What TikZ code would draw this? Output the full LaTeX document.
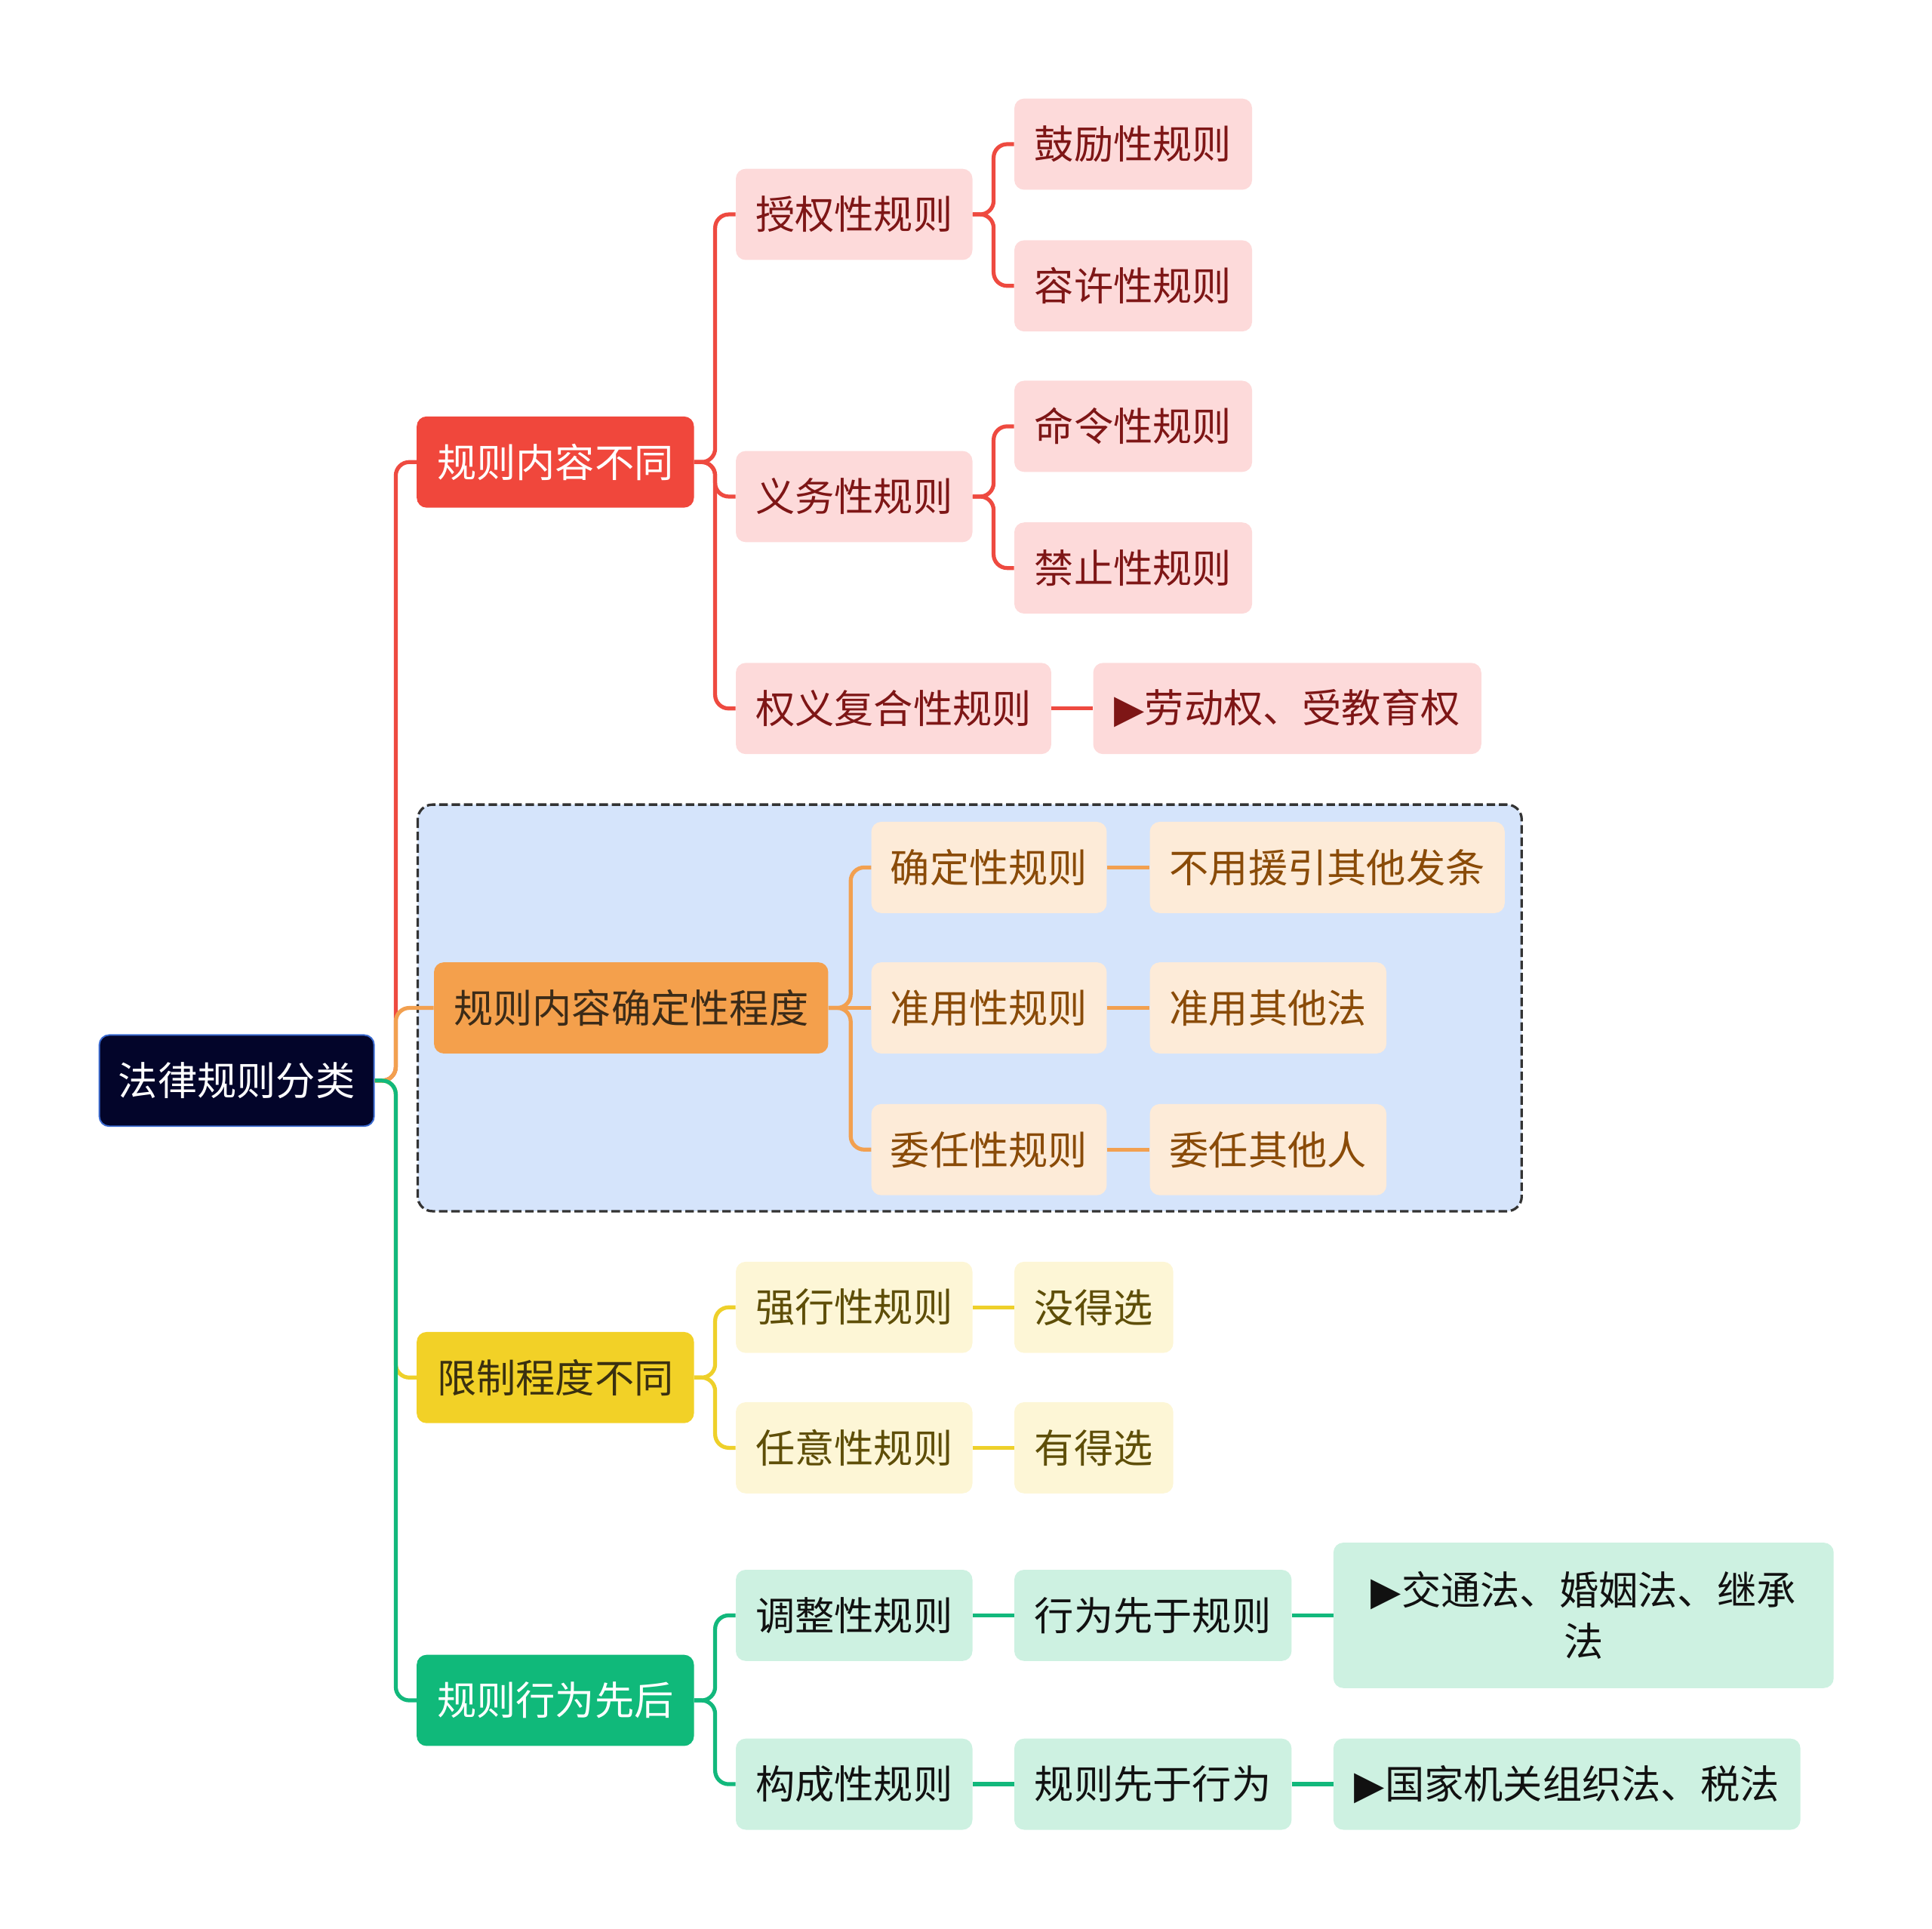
\documentclass[tikz,border=0pt]{standalone}
\usepackage{fontspec}
\setmainfont{Noto Sans CJK SC}
\newfontfamily\symf{DejaVu Sans}
\definecolor{rootfill}{HTML}{03052A}
\definecolor{rootdraw}{HTML}{3A6AD0}
\definecolor{redA}{HTML}{F0473C}
\definecolor{redB}{HTML}{FDDADA}
\definecolor{redT}{HTML}{7E1616}
\definecolor{redL}{HTML}{EE4A40}
\definecolor{orA}{HTML}{F4A04C}
\definecolor{orB}{HTML}{FDEBD8}
\definecolor{orT}{HTML}{8A4B08}
\definecolor{orL}{HTML}{F2A050}
\definecolor{orHT}{HTML}{3B2B18}
\definecolor{yeA}{HTML}{F2D127}
\definecolor{yeB}{HTML}{FDF6D6}
\definecolor{yeT}{HTML}{5E4E08}
\definecolor{yeL}{HTML}{EED02A}
\definecolor{yeHT}{HTML}{3A3010}
\definecolor{grA}{HTML}{10B97A}
\definecolor{grB}{HTML}{CDF1E1}
\definecolor{grT}{HTML}{111111}
\definecolor{grL}{HTML}{12B87C}
\definecolor{bluebg}{HTML}{D5E4FB}
\begin{document}
\begin{tikzpicture}[x=1pt,y=-1pt,
  box/.style={rounded corners=8pt, minimum height=74pt, inner sep=0pt, anchor=west,
    font=\fontsize{32}{42}\selectfont, align=center},
  rootbox/.style={box, fill=rootfill, draw=rootdraw, line width=1.2pt, text=white},
  redH/.style={box, fill=redA, text=white},
  redN/.style={box, fill=redB, text=redT},
  orH/.style={box, fill=orA, text=orHT},
  orN/.style={box, fill=orB, text=orT},
  yeH/.style={box, fill=yeA, text=yeHT},
  yeN/.style={box, fill=yeB, text=yeT},
  grH/.style={box, fill=grA, text=white},
  grN/.style={box, fill=grB, text=grT},
  link/.style={line width=3.2pt, rounded corners=11pt},
  rl/.style={link, draw=redL},
  ol/.style={link, draw=orL},
  yl/.style={link, draw=yeL},
  gl/.style={link, draw=grL}
]
\useasboundingbox (0,0) rectangle (1568,1565);
% background group box
\draw[fill=bluebg, draw=black!80, line width=2pt, dash pattern=on 7pt off 3pt, rounded corners=12pt]
  (339,653) rectangle (1235,983);

% nodes
\node[rootbox, minimum width=223pt] (root) at (80,877) {法律规则分类};
\node[redH, minimum width=225pt] (A) at (338,375) {规则内容不同};
\node[orH, minimum width=320pt] (B) at (352,818) {规则内容确定性程度};
\node[yeH, minimum width=225pt] (C) at (338,1118) {限制程度不同};
\node[grH, minimum width=225pt] (D) at (338,1380) {规则行为先后};

\node[redN, minimum width=192pt] (A1) at (597,174) {授权性规则};
\node[redN, minimum width=192pt] (A2) at (597,403) {义务性规则};
\node[redN, minimum width=256pt] (A3) at (597,575) {权义复合性规则};
\node[redN, minimum width=193pt] (A11) at (823,117) {鼓励性规则};
\node[redN, minimum width=193pt] (A12) at (823,232) {容许性规则};
\node[redN, minimum width=193pt] (A21) at (823,346) {命令性规则};
\node[redN, minimum width=193pt] (A22) at (823,461) {禁止性规则};
\node[redN, minimum width=315pt] (A31) at (887,575) {{\symf ▶}劳动权、受教育权};

\node[orN, minimum width=191pt] (B1) at (707,704) {确定性规则};
\node[orN, minimum width=191pt] (B2) at (707,818) {准用性规则};
\node[orN, minimum width=191pt] (B3) at (707,933) {委任性规则};
\node[orN, minimum width=288pt] (B11) at (933,704) {不用援引其他发条};
\node[orN, minimum width=192pt] (B21) at (933,818) {准用其他法};
\node[orN, minimum width=192pt] (B31) at (933,933) {委任其他人};

\node[yeN, minimum width=192pt] (C1) at (597,1061) {强行性规则};
\node[yeN, minimum width=192pt] (C2) at (597,1175) {任意性规则};
\node[yeN, minimum width=129pt] (C11) at (823,1061) {没得选};
\node[yeN, minimum width=129pt] (C21) at (823,1175) {有得选};

\node[grN, minimum width=192pt] (D1) at (597,1311) {调整性规则};
\node[grN, minimum width=192pt] (D2) at (597,1448) {构成性规则};
\node[grN, minimum width=225pt] (D11) at (823,1311) {行为先于规则};
\node[grN, minimum width=225pt] (D21) at (823,1448) {规则先于行为};
\node[grN, minimum width=406pt, minimum height=118pt] (D111) at (1082,1311) {{\symf ▶}交通法、婚姻法、继承\\法};
\node[grN, minimum width=379pt] (D211) at (1082,1448) {{\symf ▶}国家机关组织法、税法};

% connectors
\draw[rl] (root.east) -- ++(17,0) |- (A.west);
\draw[ol] (root.east) -- ++(17,0) |- (B.west);
\draw[yl] (root.east) -- ++(17,0) |- (C.west);
\draw[gl] (root.east) -- ++(17,0) |- (D.west);

\draw[rl] (A.east) -- ++(17,0) |- (A1.west);
\draw[rl] (A.east) -- ++(17,0) |- (A2.west);
\draw[rl] (A.east) -- ++(17,0) |- (A3.west);
\draw[rl] (A1.east) -- ++(17,0) |- (A11.west);
\draw[rl] (A1.east) -- ++(17,0) |- (A12.west);
\draw[rl] (A2.east) -- ++(17,0) |- (A21.west);
\draw[rl] (A2.east) -- ++(17,0) |- (A22.west);
\draw[rl] (A3.east) -- (A31.west);

\draw[ol] (B.east) -- ++(18,0) |- (B1.west);
\draw[ol] (B.east) -- (B2.west);
\draw[ol] (B.east) -- ++(18,0) |- (B3.west);
\draw[ol] (B1.east) -- (B11.west);
\draw[ol] (B2.east) -- (B21.west);
\draw[ol] (B3.east) -- (B31.west);

\draw[yl] (C.east) -- ++(17,0) |- (C1.west);
\draw[yl] (C.east) -- ++(17,0) |- (C2.west);
\draw[yl] (C1.east) -- (C11.west);
\draw[yl] (C2.east) -- (C21.west);

\draw[gl] (D.east) -- ++(17,0) |- (D1.west);
\draw[gl] (D.east) -- ++(17,0) |- (D2.west);
\draw[gl] (D1.east) -- (D11.west);
\draw[gl] (D2.east) -- (D21.west);
\draw[gl] (D11.east) -- (D111.west);
\draw[gl] (D21.east) -- (D211.west);
\end{tikzpicture}
\end{document}
